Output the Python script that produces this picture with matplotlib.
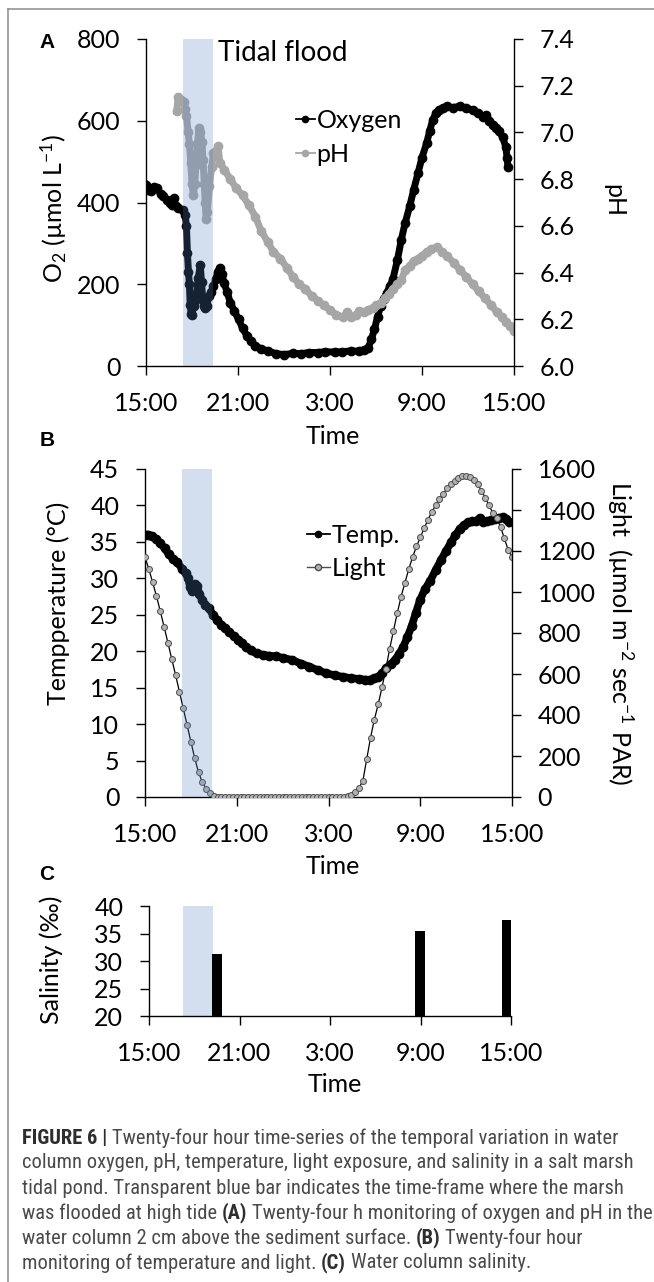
import numpy as np
import matplotlib
matplotlib.use("Agg")
import matplotlib.pyplot as plt
from matplotlib.lines import Line2D
from matplotlib import font_manager

#------------------ data (hours after 15:00) ------------------#
hour_ticks = [0, 6, 12, 18, 24]
hour_labels = ["15:00", "21:00", "3:00", "9:00", "15:00"]
flood_start, flood_end = 2.4, 4.4
flood_start_c, flood_end_c = 2.25, 4.25

o2_h = [0.00, 0.15, 0.33, 0.50, 0.73, 0.95, 1.14, 1.35, 1.55, 1.69, 1.80, 1.95, 2.10, 2.42,
        2.55, 2.64, 2.70, 2.77, 2.83, 2.88, 2.94, 3.00, 3.10, 3.20, 3.30, 3.40, 3.54, 3.62,
        3.70, 3.78, 3.86, 3.96, 4.10, 4.25, 4.40, 4.55, 4.68, 4.80, 4.95, 5.09, 5.30, 5.50,
        5.75, 6.04, 6.30, 6.60, 6.85, 7.13, 7.50, 7.95, 8.50, 9.03, 9.60, 10.10, 10.60, 11.20,
        11.70, 12.30, 12.80, 13.40, 13.90, 14.20, 14.50, 14.70, 14.90, 15.10, 15.30, 15.50,
        15.70, 15.90, 16.10, 16.40, 16.65, 16.90, 17.20, 17.45, 17.74, 18.00, 18.30, 18.50,
        18.70, 18.90, 19.10, 19.40, 19.65, 20.00, 20.50, 20.90, 21.30, 21.65, 22.00, 22.20,
        22.40, 22.64, 22.85, 23.05, 23.25, 23.46, 23.55, 23.60]
o2_val = [443, 430, 427, 438, 435, 420, 415, 405, 398, 395, 410, 392, 386, 382,
          370, 342, 277, 230, 200, 150, 128, 125, 146, 160, 179, 215, 246, 205,
          165, 148, 142, 146, 171, 180, 195, 212, 230, 240, 226, 203, 180, 155,
          135, 114, 92, 73, 60, 49, 42, 37, 30, 28, 31, 30, 33, 33,
          35, 34, 35, 37, 36, 38, 45, 65, 90, 120, 146, 165,
          179, 195, 212, 260, 309, 350, 391, 430, 472, 510, 545, 575,
          602, 618, 627, 632, 635, 632, 636, 630, 627, 618, 610, 614,
          600, 590, 583, 574, 560, 537, 510, 488]

ph_h = [2.00, 2.10, 2.25, 2.45, 2.55, 2.64, 2.75, 2.83, 2.92, 3.00, 3.09, 3.18, 3.26, 3.35,
        3.45, 3.55, 3.65, 3.72, 3.80, 3.86, 3.92, 4.00, 4.14, 4.28, 4.40, 4.55, 4.70, 4.82,
        5.10, 5.50, 5.90, 6.30, 6.70, 7.13, 7.50, 7.95, 8.30, 8.76, 9.20, 9.60, 10.00, 10.40,
        10.80, 11.20, 11.60, 12.00, 12.40, 12.84, 13.10, 13.40, 13.70, 13.90, 14.20, 14.50,
        14.80, 15.00, 15.30, 15.60, 15.85, 16.10, 16.40, 16.65, 16.90, 17.20, 17.45, 17.74,
        18.00, 18.30, 18.60, 19.00, 19.30, 19.65, 20.10, 20.50, 20.90, 21.30, 21.70, 22.10,
        22.50, 22.90, 23.20, 23.46, 23.75, 24.00]
ph_val = [7.09, 7.15, 7.14, 7.13, 7.10, 7.07, 7.00, 6.95, 6.87, 6.78, 6.73, 6.78, 6.86, 6.95,
          7.02, 7.00, 6.96, 6.88, 6.78, 6.70, 6.63, 6.66, 6.77, 6.85, 6.91, 6.92, 6.94, 6.87,
          6.84, 6.80, 6.76, 6.73, 6.69, 6.64, 6.58, 6.53, 6.49, 6.46, 6.42, 6.38, 6.35, 6.33,
          6.30, 6.28, 6.26, 6.24, 6.22, 6.21, 6.23, 6.21, 6.22, 6.235, 6.23, 6.24,
          6.25, 6.26, 6.27, 6.29, 6.31, 6.33, 6.35, 6.37, 6.41, 6.43, 6.45, 6.46,
          6.47, 6.49, 6.50, 6.51, 6.49, 6.47, 6.44, 6.41, 6.38, 6.35, 6.32, 6.29,
          6.26, 6.23, 6.21, 6.19, 6.17, 6.15]

temp_h = [0.00, 0.20, 0.45, 0.74, 1.00, 1.29, 1.55, 1.83, 2.10, 2.44, 2.65, 2.80, 2.95, 3.07,
          3.20, 3.30, 3.42, 3.56, 3.75, 3.95, 4.16, 4.45, 4.71, 5.00, 5.25, 5.50, 5.80, 6.10,
          6.35, 6.60, 6.90, 7.30, 7.72, 8.10, 8.54, 9.00, 9.63, 10.20, 10.73, 11.30, 11.82,
          12.40, 12.92, 13.50, 14.01, 14.40, 14.70, 15.00, 15.24, 15.50, 15.79, 16.10, 16.34,
          16.60, 16.89, 17.15, 17.43, 17.70, 17.98, 18.30, 18.66, 19.00, 19.35, 19.70, 20.03,
          20.30, 20.58, 20.85, 21.13, 21.40, 21.67, 21.90, 22.09, 22.35, 22.63, 22.90, 23.18,
          23.40, 23.60, 23.81]
temp_val = [36.0, 36.0, 35.8, 35.4, 34.8, 34.1, 33.3, 32.7, 32.2, 31.3, 30.7, 30.1, 28.8, 28.3,
            28.9, 29.2, 28.9, 27.8, 27.0, 26.4, 25.9, 25.0, 24.3, 23.6, 23.2, 22.6, 22.1, 21.6,
            21.1, 20.6, 20.1, 19.7, 19.5, 19.4, 19.3, 19.1, 18.8, 18.3, 17.9, 17.4, 17.0,
            16.7, 16.5, 16.3, 16.2, 16.1, 16.1, 16.3, 16.5, 17.0, 17.7, 18.3, 18.8,
            19.6, 20.6, 21.9, 23.4, 25.2, 27.0, 28.5, 29.7, 31.1, 32.5, 33.8, 35.0,
            35.9, 36.8, 37.3, 37.7, 37.8, 37.9, 38.3, 37.7, 37.8, 38.0, 38.1, 38.3,
            38.4, 38.2, 37.7]

# light, one reading every 15 min from 15:00 to 15:00
light_val = [1170, 1112, 1047, 980, 906, 830, 752, 673, 595, 514, 433, 352, 270, 190, 120, 72,
             40, 18, 5, 0, 0, 0, 0, 0, 0, 0, 0, 0, 0, 0, 0, 0, 0, 0, 0, 0, 0, 0, 0, 0, 0,
             0, 0, 0, 0, 0, 0, 0, 0, 0, 0, 0, 0, 3, 12, 25, 45, 80, 185, 290, 378, 452,
             535, 625, 722, 812, 898, 978, 1046, 1112, 1170, 1222, 1266, 1310, 1352, 1390,
             1422, 1452, 1480, 1505, 1525, 1542, 1556, 1565, 1568, 1562, 1548, 1525, 1495,
             1460, 1422, 1385, 1360, 1318, 1262, 1205, 1172]
light_h = np.linspace(0, 24, len(light_val))

sal_h = [4.5, 17.95, 23.75]
sal_val = [31.3, 35.4, 37.4]

caption = [
    [("FIGURE 6 |", True), ("Twenty-four hour time-series of the temporal variation in water", False)],
    [("column oxygen, pH, temperature, light exposure, and salinity in a salt marsh", False)],
    [("tidal pond. Transparent blue bar indicates the time-frame where the marsh", False)],
    [("was flooded at high tide", False), ("(A)", True), ("Twenty-four h monitoring of oxygen and pH in the", False)],
    [("water column 2 cm above the sediment surface.", False), ("(B)", True), ("Twenty-four hour", False)],
    [("monitoring of temperature and light.", False), ("(C)", True), ("Water column salinity.", False)],
]

#------------------ style ------------------#
plt.rcParams['font.family'] = ['Lato', 'DejaVu Sans']
plt.rcParams['font.size'] = 18
plt.rcParams['mathtext.fontset'] = 'custom'
plt.rcParams['mathtext.rm'] = 'Lato'
plt.rcParams['mathtext.default'] = 'regular'
plt.rcParams['axes.linewidth'] = 1.0
for a in ['xtick', 'ytick']:
    plt.rcParams[a + '.major.size'] = 6.5
    plt.rcParams[a + '.major.width'] = 1.0
    plt.rcParams[a + '.major.pad'] = 12
    plt.rcParams[a + '.labelsize'] = 18
    plt.rcParams[a + '.direction'] = 'out'

band_color = '#5587c0'
band_alpha = 0.26
grey = '#a6a6a6'

W, H = 654, 1282
fig = plt.figure(figsize=(W / 100, H / 100), dpi=100)


def fx(px):
    return px / W


def fy(py):
    return 1 - py / H


def box(l, t, r, b):
    return [fx(l), fy(b), (r - l) / W, (b - t) / H]


def clean(ax, right=False):
    ax.spines['top'].set_visible(False)
    ax.spines['right'].set_visible(right)


#------------------ panel A ------------------#
axA = fig.add_axes(box(146, 39, 514, 366))
axA.plot(o2_h, o2_val, color='black', lw=5, marker='o', ms=6, solid_joinstyle='round', zorder=3)
axA.set_xlim(0, 24)
axA.set_ylim(0, 800)
axA.set_yticks([0, 200, 400, 600, 800])
axA.set_xticks(hour_ticks)
axA.set_xticklabels(hour_labels)
clean(axA)

axA2 = axA.twinx()
axA2.plot(ph_h, ph_val, color=grey, lw=5, marker='o', ms=6, solid_joinstyle='round')
axA2.set_ylim(6.0, 7.4)
axA2.set_yticks(np.arange(6.0, 7.41, 0.2))
axA2.yaxis.set_major_formatter(matplotlib.ticker.FormatStrFormatter('%.1f'))
for s in ['top', 'left', 'bottom']:
    axA2.spines[s].set_visible(False)
axA2.axvspan(flood_start, flood_end, color=band_color, alpha=band_alpha, lw=0, zorder=10)

fig.text(fx(218), fy(53), "Tidal flood", ha='left', va='center', fontsize=20)
fig.text(fx(54), fy(208), r"O$_2$ (µmol L$^{-1}$)", rotation=90, ha='center', va='center')
fig.text(fx(614), fy(200), "pH", rotation=270, ha='center', va='center')
fig.text(fx(333), fy(437), "Time", ha='center', va='center')
fig.text(fx(47), fy(43), "A", ha='center', va='center', fontsize=15, weight='bold',
         family='Liberation Sans')

hA = [Line2D([], [], color='black', lw=1.3, marker='o', ms=4.5),
      Line2D([], [], color=grey, lw=1.3, marker='o', ms=4.5)]
fig.legend(hA, ["Oxygen", "pH"], loc='upper left', bbox_to_anchor=(fx(296), fy(109)),
           frameon=False, handlelength=0.75, handletextpad=0.08, labelspacing=0.42,
           borderpad=0, borderaxespad=0, fontsize=18)

#------------------ panel B ------------------#
axB = fig.add_axes(box(145, 469, 512, 797))
axB.plot(temp_h, temp_val, color='black', lw=5.5, marker='o', ms=6, solid_joinstyle='round', zorder=3)
axB.set_xlim(0, 24)
axB.set_ylim(0, 45)
axB.set_yticks(np.arange(0, 46, 5))
axB.set_xticks(hour_ticks)
axB.set_xticklabels(hour_labels)
clean(axB)

axB2 = axB.twinx()
axB2.plot(light_h, light_val, color='black', lw=0.9, marker='o', ms=4.3,
          mfc='#b3b3b3', mec='#4d4d4d', mew=0.7)
axB2.set_ylim(0, 1600)
axB2.set_yticks(np.arange(0, 1601, 200))
for s in ['top', 'left', 'bottom']:
    axB2.spines[s].set_visible(False)
axB2.axvspan(flood_start, flood_end, color=band_color, alpha=band_alpha, lw=0, zorder=10)

fig.text(fx(58), fy(603), "Tempperature (°C)", rotation=90, ha='center', va='center')
fig.text(fx(620), fy(633), r"Light  (µmol m$^{-2}$ sec$^{-1}$ PAR)", rotation=270,
         ha='center', va='center')
fig.text(fx(333), fy(866), "Time", ha='center', va='center')
fig.text(fx(47), fy(441), "B", ha='center', va='center', fontsize=15, weight='bold',
         family='Liberation Sans')

hB = [Line2D([], [], color='black', lw=1.3, marker='o', ms=4.5),
      Line2D([], [], color='#4d4d4d', lw=1.0, marker='o', ms=4.5, mfc='#b3b3b3', mec='#4d4d4d')]
fig.legend(hB, ["Temp.", "Light"], loc='upper left', bbox_to_anchor=(fx(307), fy(524)),
           frameon=False, handlelength=0.9, handletextpad=0.08, labelspacing=0.38,
           borderpad=0, borderaxespad=0, fontsize=18)

#------------------ panel C ------------------#
axC = fig.add_axes(box(149, 906, 511, 1016))
axC.bar(sal_h, sal_val, width=0.65, color='black', zorder=3)
axC.axvspan(flood_start_c, flood_end_c, color=band_color, alpha=band_alpha, lw=0, zorder=1)
axC.set_xlim(0, 24)
axC.set_ylim(20, 40)
axC.set_yticks(np.arange(20, 41, 5))
axC.set_xticks(hour_ticks)
axC.set_xticklabels(hour_labels)
clean(axC)

fig.text(fx(51), fy(960), "Salinity (‰)", rotation=90, ha='center', va='center')
fig.text(fx(335), fy(1085), "Time", ha='center', va='center')
fig.text(fx(47), fy(875), "C", ha='center', va='center', fontsize=15, weight='bold',
         family='Liberation Sans')

#------------------ frame ------------------#
fig.add_artist(Line2D([fx(7.5), fx(7.5)], [0, fy(8.5)], color='#8c8c8c', lw=1.1))
fig.add_artist(Line2D([fx(7.5), 1], [fy(8.5), fy(8.5)], color='#8c8c8c', lw=1.1))

#------------------ caption ------------------#
names = {f.name for f in font_manager.fontManager.ttflist}
cap_font = next((n for n in ['Liberation Sans Narrow', 'Roboto Condensed', 'Liberation Sans']
                 if n in names), 'DejaVu Sans')
renderer = fig.canvas.get_renderer()


def text_w(s, size, bold):
    t = fig.text(0, 0, s, fontsize=size, family=cap_font, weight='bold' if bold else 'normal')
    w = t.get_window_extent(renderer=renderer).width
    t.remove()
    return w


def line_w(parts, size):
    w = 0
    for i, (s, b) in enumerate(parts):
        if i:
            w += text_w("x x", size, False) - text_w("xx", size, False)
        w += text_w(s, size, b)
    return w


cap_size = 12 * 594 / line_w(caption[0], 12)
space = text_w("x x", cap_size, False) - text_w("xx", cap_size, False)
for k, parts in enumerate(caption):
    x = 22
    y = 1138 + 25 * k
    for i, (s, b) in enumerate(parts):
        if i:
            x += space
        t = fig.text(fx(x), fy(y), s, fontsize=cap_size, family=cap_font,
                     weight='bold' if b else 'normal', color='#2e2e2e' if b else '#4a4a4a',
                     ha='left', va='center')
        x += t.get_window_extent(renderer=renderer).width

fig.savefig("out.png", dpi=100)
